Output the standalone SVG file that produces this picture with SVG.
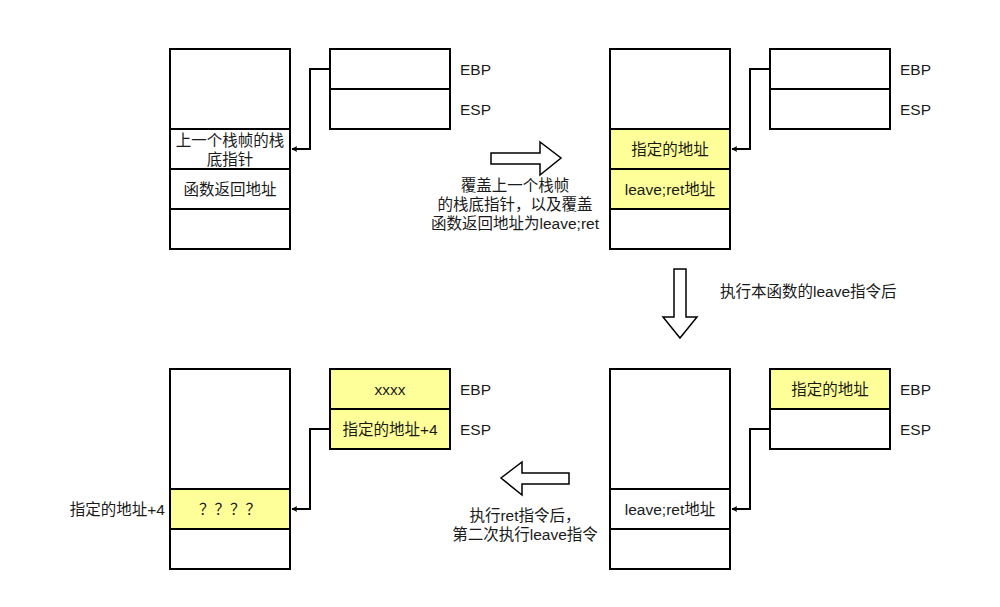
<svg xmlns="http://www.w3.org/2000/svg" width="1000" height="607" viewBox="0 0 1000 607">
  <style>
    .cell { fill: #ffffff; stroke: #000000; stroke-width: 2; }
    .hl { fill: #ffff99; stroke: #000000; stroke-width: 2; }
    .blk { fill: #ffffff; stroke: #000000; stroke-width: 1.5; stroke-linejoin: miter; }
    .wire { fill: none; stroke: #000000; stroke-width: 2; }
    text { font-family: "Liberation Sans", "Noto Sans CJK SC", sans-serif; font-size: 15.5px; fill: #1a1a1a; }
    .c { text-anchor: middle; dominant-baseline: central; }
    .l { text-anchor: start; dominant-baseline: central; }
    .r { text-anchor: end; dominant-baseline: central; }
  </style>
  <defs>
    <marker id="arr" viewBox="0 0 10 10" refX="9" refY="5" markerWidth="6" markerHeight="6" orient="auto" markerUnits="userSpaceOnUse">
      <path d="M1,1 L9,5 L1,9 L3,5 Z" fill="#000000" stroke="#000000" stroke-width="1"/>
    </marker>
  </defs>

  <!-- Stage 1: original frame -->
  <g id="stack1">
    <rect class="cell" x="170" y="49" width="120" height="80"/>
    <rect class="cell" x="170" y="129" width="120" height="40"/>
    <rect class="cell" x="170" y="169" width="120" height="40"/>
    <rect class="cell" x="170" y="209" width="120" height="40"/>
    <text class="c" x="230" y="140">上一个栈帧的栈</text>
    <text class="c" x="230" y="159">底指针</text>
    <text class="c" x="230" y="189">函数返回地址</text>
  </g>
  <g id="regs1">
    <rect class="cell" x="330" y="49" width="120" height="40"/>
    <rect class="cell" x="330" y="89" width="120" height="40"/>
    <text class="l" x="460" y="69">EBP</text>
    <text class="l" x="460" y="109">ESP</text>
  </g>

  <!-- Stage 2: overwritten frame -->
  <g id="stack2">
    <rect class="cell" x="610" y="49" width="120" height="80"/>
    <rect class="hl" x="610" y="129" width="120" height="40"/>
    <rect class="hl" x="610" y="169" width="120" height="40"/>
    <rect class="cell" x="610" y="209" width="120" height="40"/>
    <text class="c" x="670" y="149">指定的地址</text>
    <text class="c" x="670" y="189">leave;ret地址</text>
  </g>
  <g id="regs2">
    <rect class="cell" x="770" y="49" width="120" height="40"/>
    <rect class="cell" x="770" y="89" width="120" height="40"/>
    <text class="l" x="900" y="69">EBP</text>
    <text class="l" x="900" y="109">ESP</text>
  </g>

  <!-- Stage 3: after leave -->
  <g id="stack3">
    <rect class="cell" x="610" y="369" width="120" height="120"/>
    <rect class="cell" x="610" y="489" width="120" height="40"/>
    <rect class="cell" x="610" y="529" width="120" height="40"/>
    <text class="c" x="670" y="509">leave;ret地址</text>
  </g>
  <g id="regs3">
    <rect class="hl" x="770" y="369" width="120" height="40"/>
    <rect class="cell" x="770" y="409" width="120" height="40"/>
    <text class="c" x="830" y="389">指定的地址</text>
    <text class="l" x="900" y="389">EBP</text>
    <text class="l" x="900" y="429">ESP</text>
  </g>

  <!-- Stage 4: after ret and second leave -->
  <g id="stack4">
    <rect class="cell" x="170" y="369" width="120" height="120"/>
    <rect class="hl" x="170" y="489" width="120" height="40"/>
    <rect class="cell" x="170" y="529" width="120" height="40"/>
    <text class="c" x="230" y="509">？？？？</text>
    <text class="r" x="165" y="509">指定的地址+4</text>
  </g>
  <g id="regs4">
    <rect class="hl" x="330" y="369" width="120" height="40"/>
    <rect class="hl" x="330" y="409" width="120" height="40"/>
    <text class="c" x="390" y="389">xxxx</text>
    <text class="c" x="390" y="429">指定的地址+4</text>
    <text class="l" x="460" y="389">EBP</text>
    <text class="l" x="460" y="429">ESP</text>
  </g>

  <!-- Pointer connectors -->
  <g id="connectors">
    <path class="wire" d="M330,69 H310 V149 H292" marker-end="url(#arr)"/>
    <path class="wire" d="M770,69 H750 V149 H732" marker-end="url(#arr)"/>
    <path class="wire" d="M770,429 H750 V509 H732" marker-end="url(#arr)"/>
    <path class="wire" d="M330,429 H310 V509 H292" marker-end="url(#arr)"/>
  </g>

  <!-- Step arrows and captions -->
  <g id="step1">
    <path class="blk" d="M491,153 H540 V142 L561,158 L540,175 V164 H491 Z"/>
    <text class="c" x="515" y="185">覆盖上一个栈帧</text>
    <text class="c" x="515" y="204">的栈底指针，以及覆盖</text>
    <text class="c" x="515" y="223">函数返回地址为leave;ret</text>
  </g>
  <g id="step2">
    <path class="blk" d="M674,269 H686 V317 H697 L680,338 L663,317 H674 Z"/>
    <text class="l" x="720" y="291">执行本函数的leave指令后</text>
  </g>
  <g id="step3">
    <path class="blk" d="M569,473 V484 H522 V495 L501,478 L522,462 V473 Z"/>
    <text class="c" x="525" y="515">执行ret指令后，</text>
    <text class="c" x="525" y="534">第二次执行leave指令</text>
  </g>
</svg>
